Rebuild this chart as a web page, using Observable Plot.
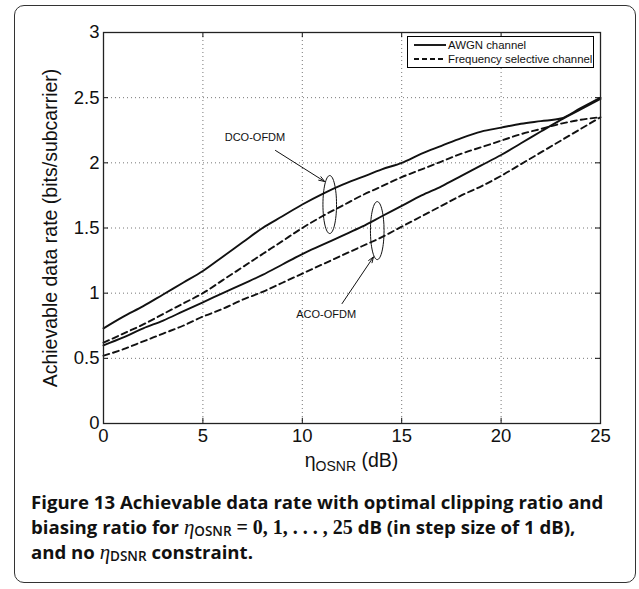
<!DOCTYPE html>
<html>
<head>
<meta charset="utf-8">
<script src="https://cdn.jsdelivr.net/npm/d3@7"></script>
<script src="https://cdn.jsdelivr.net/npm/@observablehq/plot@0.6"></script>
<style>
  html, body { margin: 0; padding: 0; background: #fff; }
  #wrap { position: relative; width: 639px; height: 589px; overflow: hidden; font-family: "Liberation Sans", Arial, sans-serif; }
  #card { position: absolute; left: 14px; top: 5px; width: 622px; height: 578px; border: 1.5px solid #333; border-radius: 10px; box-sizing: border-box; }
  #chart { position: absolute; left: 0; top: 0; }
  #legend { position: absolute; left: 407px; top: 36px; width: 187px; height: 32px; border: 1px solid #000; background: #fff; box-sizing: border-box; font-size: 11.4px; color: #111; }
  #legend .row { position: absolute; left: 0; height: 14px; line-height: 14px; white-space: nowrap; }
  #legend svg { position: absolute; left: 6px; top: 0; }
  #legend span { position: absolute; left: 40px; top: 0; }
  #xlabel { position: absolute; left: 103px; width: 497px; top: 449px; text-align: center; font-size: 19.5px; color: #111; white-space: nowrap; }
  #xlabel sub { font-size: 14px; vertical-align: -4px; }
  #caption { position: absolute; left: 31px; top: 489px; width: 605px; font-family: "Open Sans", sans-serif; font-weight: 700; font-size: 18.6px; line-height: 25px; color: #111; white-space: nowrap; }
  #caption .line { display: block; height: 25px; overflow: visible; }
  #caption .m { font-family: "Liberation Serif", serif; font-weight: 700; font-size: 20px; line-height: 1; }
  #caption .eta { font-family: "Liberation Serif", serif; font-style: italic; font-weight: 400; font-size: 21px; line-height: 1; }
  #caption sub { font-weight: 600; font-size: 13.5px; vertical-align: -2px; line-height: 1; }
</style>
</head>
<body>
<div id="wrap">
  <div id="card"></div>
  <div id="chart"></div>
  <div id="legend"></div>
  <div id="xlabel">η<sub>OSNR</sub> (dB)</div>
  <div id="caption"><span class="line">Figure 13 Achievable data rate with optimal clipping ratio and</span><span class="line">biasing ratio for <span class="eta">η</span><sub>OSNR</sub> <span class="m">= 0, 1, . . . , 25</span> dB (in step size of 1 dB),</span><span class="line">and no <span class="eta">η</span><sub>DSNR</sub> constraint.</span></div>
</div>
<script>
// ---- data ----
const osnr = d3.range(0, 26);
const dcoAwgn = [0.73, 0.82, 0.90, 0.99, 1.08, 1.17, 1.28, 1.39, 1.50, 1.59, 1.68, 1.76, 1.83, 1.89, 1.95, 2.00, 2.07, 2.13, 2.19, 2.24, 2.27, 2.30, 2.32, 2.34, 2.42, 2.50];
const dcoFreq  = [0.62, 0.69, 0.76, 0.84, 0.92, 1.00, 1.10, 1.20, 1.30, 1.40, 1.50, 1.59, 1.67, 1.75, 1.82, 1.89, 1.95, 2.01, 2.07, 2.12, 2.17, 2.22, 2.26, 2.30, 2.33, 2.35];
const acoAwgn = [0.60, 0.66, 0.73, 0.79, 0.86, 0.93, 1.00, 1.07, 1.14, 1.22, 1.30, 1.37, 1.44, 1.51, 1.59, 1.67, 1.75, 1.82, 1.90, 1.98, 2.06, 2.15, 2.24, 2.33, 2.41, 2.49];
const acoFreq  = [0.52, 0.57, 0.63, 0.69, 0.75, 0.82, 0.88, 0.95, 1.01, 1.08, 1.15, 1.22, 1.29, 1.36, 1.43, 1.51, 1.59, 1.67, 1.75, 1.82, 1.90, 1.99, 2.08, 2.17, 2.26, 2.35];
const xTicks = [0, 5, 10, 15, 20, 25];
const yTicks = [0, 0.5, 1, 1.5, 2, 2.5, 3];
const yTickLabels = ["0", "0.5", "1", "1.5", "2", "2.5", "3"];
const seriesNames = ["AWGN channel", "Frequency selective channel"];
const annotationLabels = [
  {x: 7.62, y: 2.195, text: "DCO-OFDM"},
  {x: 11.2, y: 0.837, text: "ACO-OFDM"}
];
const annotationArrows = [
  {x1: 8.65, y1: 2.095, x2: 11.12, y2: 1.857},
  {x1: 12.0, y1: 0.92, x2: 13.58, y2: 1.278}
];
const groupEllipses = [
  {x: 11.38, y: 1.68},
  {x: 13.77, y: 1.48}
];

const toRows = (vals) => osnr.map((x, i) => ({x, y: vals[i]}));

// ellipse symbol for grouping marks
const ellipseSymbol = {
  draw(ctx) {
    const rx = 6.8, ry = 29, k = 0.5523;
    ctx.moveTo(rx, 0);
    ctx.bezierCurveTo(rx, ry * k, rx * k, ry, 0, ry);
    ctx.bezierCurveTo(-rx * k, ry, -rx, ry * k, -rx, 0);
    ctx.bezierCurveTo(-rx, -ry * k, -rx * k, -ry, 0, -ry);
    ctx.bezierCurveTo(rx * k, -ry, rx, -ry * k, rx, 0);
    ctx.closePath();
  }
};

const solid = {stroke: "#111", strokeWidth: 1.9};
const dashed = {stroke: "#111", strokeWidth: 1.9, strokeDasharray: "6,4"};

const chart = Plot.plot({
  width: 639,
  height: 470,
  marginLeft: 103,
  marginRight: 39,
  marginTop: 32,
  marginBottom: 47,
  style: {background: "transparent", fontFamily: "'Liberation Sans', Arial, sans-serif", color: "#111"},
  x: {domain: [0, 25]},
  y: {domain: [0, 3]},
  marks: [
    Plot.gridX(xTicks, {stroke: "#777", strokeOpacity: 1, strokeDasharray: "1,3", strokeWidth: 1}),
    Plot.gridY(yTicks, {stroke: "#777", strokeOpacity: 1, strokeDasharray: "1,3", strokeWidth: 1}),
    Plot.ruleX(xTicks, {y1: 0, y2: 0.04, stroke: "#111"}),
    Plot.ruleX(xTicks, {y1: 2.96, y2: 3, stroke: "#111"}),
    Plot.ruleY(yTicks, {x1: 0, x2: 0.25, stroke: "#111"}),
    Plot.ruleY(yTicks, {x1: 24.75, x2: 25, stroke: "#111"}),
    Plot.axisX(xTicks, {tickSize: 0, tickPadding: 5, fontSize: 18.5, label: null}),
    Plot.axisY(yTicks, {tickSize: 0, tickPadding: 4, fontSize: 18.5, label: null,
      tickFormat: (d) => yTickLabels[yTicks.indexOf(d)]}),
    Plot.text(["Achievable data rate (bits/subcarrier)"], {
      frameAnchor: "left", textAnchor: "middle", dx: -53, rotate: -90, fontSize: 19.5, fill: "#111"
    }),
    Plot.line(toRows(dcoAwgn), {x: "x", y: "y", curve: "monotone-x", ...solid}),
    Plot.line(toRows(dcoFreq), {x: "x", y: "y", curve: "monotone-x", ...dashed}),
    Plot.line(toRows(acoAwgn), {x: "x", y: "y", curve: "monotone-x", ...solid}),
    Plot.line(toRows(acoFreq), {x: "x", y: "y", curve: "monotone-x", ...dashed}),
    Plot.dot(groupEllipses, {x: "x", y: "y", symbol: ellipseSymbol, stroke: "#111", fill: "none", strokeWidth: 1}),
    Plot.arrow(annotationArrows, {x1: "x1", y1: "y1", x2: "x2", y2: "y2", stroke: "#111", strokeWidth: 1, headLength: 9, headAngle: 40}),
    Plot.text(annotationLabels, {x: "x", y: "y", text: "text", fontSize: 11, fill: "#111"}),
    Plot.frame({stroke: "#222", strokeWidth: 1.3})
  ]
});
document.getElementById("chart").append(chart);

// legend
const legend = document.getElementById("legend");
seriesNames.forEach((name, i) => {
  const row = document.createElement("div");
  row.className = "row";
  row.style.top = (i === 0 ? 1 : 15) + "px";
  row.style.width = "185px";
  row.innerHTML = `<svg width="34" height="14"><line x1="0" x2="32" y1="7" y2="7" stroke="#111" stroke-width="1.9" ${i === 1 ? 'stroke-dasharray="5,3"' : ''}/></svg><span>${name}</span>`;
  legend.append(row);
});
</script>
</body>
</html>
